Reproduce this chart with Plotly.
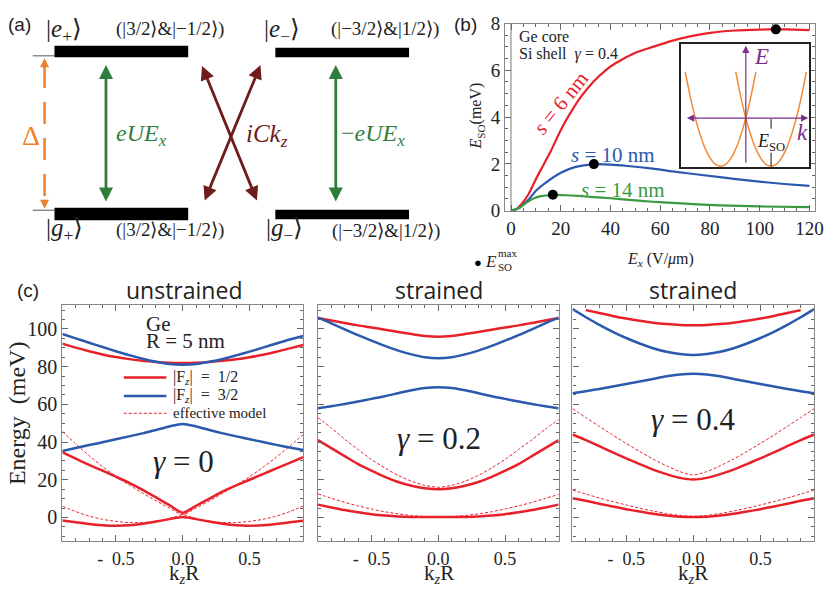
import plotly.graph_objects as go

W, H = 837, 596
def PX(x): return x / W
def PY(y): return 1 - y / H

SERIF = "Liberation Serif"
SANS = "Liberation Sans"
RED = "#e8202a"
BLUE = "#2a59ad"
GREEN = "#3a9a40"

# ---------------- panel (b) data ----------------
ex_s6 = [0, 2, 4, 7, 10, 13, 16, 20, 24, 28, 33, 38, 42, 50, 57, 65, 72, 80, 90, 100, 107, 114, 120]
eso_s6 = [0, 0.05, 0.25, 0.7, 1.35, 1.95, 2.55, 3.45, 4.2, 4.85, 5.5, 6.0, 6.3, 6.75, 7.0, 7.27, 7.45,
          7.6, 7.7, 7.74, 7.75, 7.74, 7.72]
ex_s10 = [0, 3, 7, 10, 14, 20, 26, 33, 40, 47, 57, 65, 71, 84, 97, 110, 120]
eso_s10 = [0, 0.1, 0.47, 0.85, 1.2, 1.62, 1.87, 1.98, 1.97, 1.91, 1.8, 1.68, 1.6, 1.43, 1.27, 1.14, 1.06]
ex_s14 = [0, 3, 6, 9, 12, 16.5, 22, 27, 33, 40, 50, 57, 65, 75, 84, 100, 120]
eso_s14 = [0, 0.1, 0.33, 0.52, 0.62, 0.67, 0.66, 0.63, 0.58, 0.53, 0.44, 0.38, 0.33, 0.27, 0.23, 0.18, 0.15]
max_ex = [106.5, 33.3, 16.8]
max_eso = [7.75, 1.99, 0.68]
b_xticks = [0, 20, 40, 60, 80, 100, 120]
b_yticks = [0, 2, 4, 6, 8]

# inset schematic dispersion
ins_k_left = [-2.4, -2.2, -2.0, -1.8, -1.6, -1.4, -1.2, -1.0, -0.8, -0.6, -0.4, -0.2, 0.0, 0.2, 0.4]
ins_k_right = [-0.4, -0.2, 0.0, 0.2, 0.4, 0.6, 0.8, 1.0, 1.2, 1.4, 1.6, 1.8, 2.0, 2.2, 2.4]
ins_E_left = [0.96, 0.44, 0.0, -0.36, -0.64, -0.84, -0.96, -1.0, -0.96, -0.84, -0.64, -0.36, 0.0, 0.44, 0.96]
ins_E_right = [0.96, 0.44, 0.0, -0.36, -0.64, -0.84, -0.96, -1.0, -0.96, -0.84, -0.64, -0.36, 0.0, 0.44, 0.96]

# ---------------- panel (c) data ----------------
kR = [-0.9, -0.8, -0.7, -0.6, -0.5, -0.4, -0.3, -0.2, -0.1, 0.0, 0.1, 0.2, 0.3, 0.4, 0.5, 0.6, 0.7, 0.8, 0.9]
kR_short = [-0.8, -0.7, -0.6, -0.5, -0.4, -0.3, -0.2, -0.1, 0.0, 0.1, 0.2, 0.3, 0.4, 0.5, 0.6, 0.7, 0.8]
c_xtickvals = [-0.5, 0.0, 0.5]
c_xticktext = ["-\u00a0\u00a00.5", "0.0", "0.5"]
c_yticks = [0, 20, 40, 60, 80, 100]

# unstrained, gamma = 0
u_blue_top = [97.3, 95.0, 92.7, 90.4, 88.2, 86.1, 84.2, 82.6, 81.4, 81.0, 81.4, 82.6, 84.1, 86.0, 88.0, 90.1, 92.3, 94.4, 96.3]
u_red_top = [92.2, 90.1, 88.2, 86.5, 85.1, 84.0, 83.1, 82.5, 82.1, 82.0, 82.1, 82.5, 83.1, 83.9, 85.0, 86.3, 87.9, 89.7, 91.5]
u_blue_low = [35.3, 36.8, 38.4, 39.9, 41.5, 43.0, 44.6, 46.4, 48.3, 49.6, 48.3, 46.4, 44.6, 43.0, 41.5, 40.0, 38.5, 37.1, 35.8]
u_red_mid = [34.5, 31.2, 27.9, 24.8, 21.6, 18.3, 14.6, 10.6, 6.5, 2.5, 6.2, 10.0, 13.8, 17.0, 20.0, 23.0, 26.0, 29.0, 32.0]
u_red_bot = [-1.6, -2.6, -3.5, -4.1, -4.4, -4.2, -3.4, -2.2, -0.9, 0.2, -0.9, -2.2, -3.4, -4.2, -4.4, -4.1, -3.5, -2.6, -1.7]
u_eff_up = [45.7, 39.0, 32.8, 27.0, 21.8, 17.2, 12.9, 8.8, 5.0, 1.5, 5.0, 8.8, 12.9, 17.2, 21.6, 26.6, 32.0, 37.8, 44.0]
u_eff_low = [6.0, 3.1, 0.7, -1.0, -2.1, -2.7, -2.7, -2.1, -0.7, 1.5, -0.7, -2.1, -2.7, -2.7, -2.1, -1.0, 0.7, 3.1, 6.0]

# strained, gamma = 0.2
s2_red_top = [105.8, 104.5, 103.2, 101.9, 100.8, 99.6, 98.4, 97.3, 96.3, 95.9, 96.3, 97.3, 98.4, 99.6, 100.8, 101.9, 103.2, 104.5, 105.8]
s2_blue_top = [106.0, 103.0, 99.8, 96.7, 93.8, 91.0, 88.5, 86.5, 85.0, 84.5, 85.0, 86.5, 88.5, 91.0, 93.8, 96.7, 99.8, 103.0, 106.0]
s2_blue_low = [57.9, 59.0, 60.2, 61.5, 62.9, 64.3, 65.9, 67.5, 68.7, 69.1, 68.7, 67.5, 65.9, 64.3, 62.9, 61.5, 60.2, 59.0, 57.9]
s2_red_mid = [41.0, 36.8, 32.5, 28.3, 24.8, 21.5, 18.8, 16.8, 15.5, 15.0, 15.5, 16.8, 18.8, 21.5, 24.8, 28.3, 32.5, 36.8, 41.0]
s2_eff_up = [53.0, 47.5, 41.5, 36.0, 30.8, 26.3, 22.3, 19.2, 17.0, 16.0, 17.0, 19.2, 22.3, 26.3, 30.8, 36.0, 41.2, 46.8, 52.0]
s2_red_bot = [6.8, 5.3, 3.9, 2.7, 1.7, 1.0, 0.5, 0.3, 0.2, 0.2, 0.2, 0.3, 0.5, 1.0, 1.7, 2.7, 3.9, 5.3, 6.8]
s2_eff_low = [12.5, 10.2, 8.0, 6.1, 4.5, 3.0, 1.9, 1.0, 0.5, 0.3, 0.5, 1.0, 1.9, 3.0, 4.5, 6.1, 8.0, 10.1, 12.2]

# strained, gamma = 0.4
s4_red_top = [110.0, 108.5, 106.9, 105.5, 104.3, 103.3, 102.6, 102.1, 102.0, 102.1, 102.6, 103.3, 104.3, 105.5, 106.9, 108.5, 110.0]
s4_blue_top = [110.5, 106.2, 102.2, 98.5, 95.2, 92.3, 89.8, 87.9, 86.7, 86.2, 86.7, 87.9, 89.8, 92.3, 95.2, 98.5, 102.2, 106.2, 110.5]
s4_blue_low = [65.9, 67.0, 68.2, 69.5, 70.8, 72.1, 73.5, 74.9, 75.9, 76.3, 75.9, 74.9, 73.5, 72.1, 70.8, 69.5, 68.2, 67.0, 65.9]
s4_red_mid = [44.0, 41.0, 37.8, 34.5, 31.3, 28.3, 25.4, 23.0, 21.0, 20.1, 21.0, 23.0, 25.4, 28.3, 31.3, 34.5, 37.8, 41.0, 44.0]
s4_eff_up = [57.7, 53.0, 48.3, 43.7, 39.3, 35.0, 31.0, 27.4, 24.3, 22.5, 24.3, 27.4, 31.0, 35.0, 39.3, 43.7, 48.3, 53.0, 57.7]
s4_red_bot = [10.2, 8.8, 7.3, 5.8, 4.4, 3.1, 1.9, 1.0, 0.4, 0.2, 0.4, 1.0, 1.9, 3.1, 4.4, 5.8, 7.3, 8.8, 10.2]
s4_eff_low = [14.5, 12.4, 10.3, 8.4, 6.6, 4.9, 3.4, 2.1, 1.1, 0.6, 1.1, 2.1, 3.4, 4.9, 6.6, 8.4, 10.3, 12.4, 14.5]

fig = go.Figure()

def line(x, y, xa, ya, color, width=2.5, dash=None, smooth=0.7):
    fig.add_trace(go.Scatter(x=x, y=y, xaxis=xa, yaxis=ya, mode="lines",
                             line=dict(color=color, width=width, dash=dash, shape="spline", smoothing=smooth),
                             showlegend=False, hoverinfo="skip"))

# (b)
line(ex_s6, eso_s6, "x", "y", RED, 2.2, smooth=0.5)
line(ex_s10, eso_s10, "x", "y", BLUE, 2.2, smooth=0.5)
line(ex_s14, eso_s14, "x", "y", GREEN, 2.2, smooth=0.5)
fig.add_trace(go.Scatter(x=max_ex, y=max_eso, xaxis="x", yaxis="y", mode="markers",
                         marker=dict(color="black", size=10), showlegend=False, cliponaxis=False))
# inset
ORANGE_IN = "#f28c3a"
line(ins_k_left, ins_E_left, "x2", "y2", ORANGE_IN, 1.5)
line(ins_k_right, ins_E_right, "x2", "y2", ORANGE_IN, 1.5)

# (c)
panels = [
    ("x3", "y3", [(kR, u_red_top, RED), (kR, u_blue_top, BLUE), (kR, u_blue_low, BLUE), (kR, u_red_mid, RED), (kR, u_red_bot, RED)],
     [u_eff_up, u_eff_low]),
    ("x4", "y4", [(kR, s2_red_top, RED), (kR, s2_blue_top, BLUE), (kR, s2_blue_low, BLUE), (kR, s2_red_mid, RED), (kR, s2_red_bot, RED)],
     [s2_eff_up, s2_eff_low]),
    ("x5", "y5", [(kR_short, s4_red_top, RED), (kR, s4_blue_top, BLUE), (kR, s4_blue_low, BLUE), (kR, s4_red_mid, RED), (kR, s4_red_bot, RED)],
     [s4_eff_up, s4_eff_low]),
]
for xa, ya, solids, effs in panels:
    for e in effs:
        line(kR, e, xa, ya, RED, 1, "3px,2px")
    for kx, vals, col in solids:
        line(kx, vals, xa, ya, col, 2.5)

FRAME = "#888888"
TICKC = "#666666"

def frame_axis(domain, rng, tickvals, ticktext, minor_dtick, anchor, showlabels=True, size=18, standoff=None):
    d = dict(domain=domain, range=rng, anchor=anchor, showline=True, linecolor=FRAME, linewidth=1.2,
             mirror="ticks", ticks="inside", ticklen=6, tickcolor=TICKC, tickwidth=1,
             tickmode="array", tickvals=tickvals, ticktext=ticktext, showticklabels=showlabels,
             tickfont=dict(family=SERIF, size=size, color="#222"),
             minor=dict(ticks="inside", dtick=minor_dtick, tick0=0, ticklen=3, tickcolor=TICKC, showgrid=False),
             showgrid=False, zeroline=False, fixedrange=True)
    if standoff is not None:
        d["ticklabelstandoff"] = standoff
    return d

c_ytickstext = [str(v) for v in c_yticks]
layout = dict(
    width=W, height=H, autosize=False, margin=dict(l=0, r=0, t=0, b=0),
    paper_bgcolor="white", plot_bgcolor="white", showlegend=False,
    xaxis=frame_axis([PX(510), PX(823)], [-2.4, 122.3], b_xticks, [str(v) for v in b_xticks], 5, "y", size=19),
    yaxis=frame_axis([PY(208), PY(14)], [0, 8], b_yticks, [str(v) for v in b_yticks], 0.5, "x", size=19),
    xaxis2=dict(domain=[PX(688), PX(817)], range=[-2.55, 2.51], anchor="y2", showline=True, mirror=True,
                linecolor="#222", linewidth=1.5, ticks="", showticklabels=False, showgrid=False, zeroline=False),
    yaxis2=dict(domain=[PY(163), PY(35)], range=[-1.02, 1.54], anchor="x2", showline=True, mirror=True,
                linecolor="#222", linewidth=1.5, ticks="", showticklabels=False, showgrid=False, zeroline=False),
    xaxis3=frame_axis([PX(63), PX(306)], [-0.9, 0.9], c_xtickvals, c_xticktext, 0.1, "y3", size=18, standoff=2),
    yaxis3=frame_axis([PY(550), PY(306)], [-12.3, 112.6], c_yticks, c_ytickstext, 5, "x3", size=20),
    xaxis4=frame_axis([PX(321), PX(564)], [-0.9, 0.9], c_xtickvals, c_xticktext, 0.1, "y4", size=18, standoff=2),
    yaxis4=frame_axis([PY(550), PY(306)], [-12.3, 112.6], c_yticks, c_ytickstext, 5, "x4", showlabels=False),
    xaxis5=frame_axis([PX(578), PX(822)], [-0.9, 0.9], c_xtickvals, c_xticktext, 0.1, "y5", size=18, standoff=2),
    yaxis5=frame_axis([PY(550), PY(306)], [-12.3, 112.6], c_yticks, c_ytickstext, 5, "x5", showlabels=False),
    xaxis6=dict(domain=[0, PX(460)], range=[0, 460], anchor="y6", visible=False, fixedrange=True),
    yaxis6=dict(domain=[PY(240), 1], range=[240, 0], anchor="x6", visible=False, fixedrange=True),
)
layout["xaxis"]["zeroline"] = True
layout["xaxis"]["zerolinecolor"] = "#bdbdbd"
layout["xaxis"]["zerolinewidth"] = 2
fig.update_layout(**layout)

ann = []
shapes = []

def T(text, x, y, size, color="#222", family=SERIF, xanchor="center", yanchor="middle", angle=0):
    ann.append(dict(text=text, x=PX(x), y=PY(y), xref="paper", yref="paper", showarrow=False,
                    font=dict(family=family, size=size, color=color), xanchor=xanchor, yanchor=yanchor,
                    textangle=angle))

def arrow(x0, y0, x1, y1, color, width, both=True, xr="x6", yr="y6", size=1.0, head=2):
    ann.append(dict(x=x1, y=y1, ax=x0, ay=y0, xref=xr, yref=yr, axref=xr, ayref=yr, text="",
                    showarrow=True, arrowhead=head, arrowsize=size, arrowwidth=width, arrowcolor=color,
                    arrowside="end+start" if both else "end", startarrowhead=head, startarrowsize=size))

# ---------- panel (a) ----------
for (x0, x1, y0, y1) in [(55, 190, 37, 49), (278, 413, 39, 49), (55, 190, 205, 218), (278, 413, 207, 217)]:
    shapes.append(dict(type="rect", xref="x6", yref="y6", x0=x0, x1=x1, y0=y0, y1=y1,
                       fillcolor="black", line=dict(width=0)))
for yy in (47.5, 207.5):
    shapes.append(dict(type="line", xref="x6", yref="y6", x0=33, x1=55, y0=yy, y1=yy,
                       line=dict(color="#555", width=1)))
ORANGE = "#f07f2a"
shapes.append(dict(type="line", xref="x6", yref="y6", x0=45, x1=45, y0=58, y1=200,
                   line=dict(color=ORANGE, width=2.5, dash="22px,14px")))
arrow(45, 62, 45, 50, ORANGE, 2, both=False, size=0.9)
arrow(45, 195, 45, 206, ORANGE, 2, both=False, size=0.9)
DGREEN = "#2f7d3c"
DRED = "#6e1c1c"
arrow(107, 200, 107, 57, DGREEN, 2.8, size=1.0)
arrow(339, 200, 339, 57, DGREEN, 2.8, size=1.0)
arrow(206, 199, 263, 57, DRED, 2.8, size=1.0)
arrow(260, 199, 204, 58, DRED, 2.8, size=1.0)

T("(a)", 20, 15, 19, "#222", SANS)
T("|<i>e</i><sub>+</sub>⟩", 65, 21, 25)
T("(|3/2⟩&amp;|−1/2⟩)", 172, 20, 19)
T("|<i>e</i><sub>−</sub>⟩", 285, 21, 25)
T("(|−3/2⟩&amp;|1/2⟩)", 389, 20, 19)
T("|<i>g</i><sub>+</sub>⟩", 65, 228, 25)
T("(|3/2⟩&amp;|−1/2⟩)", 172, 228, 19)
T("|<i>g</i><sub>−</sub>⟩", 287, 228, 25)
T("(|−3/2⟩&amp;|1/2⟩)", 390, 229, 19)
T("Δ", 31, 130, 28, ORANGE)
T("<i>eUE</i><sub><i>x</i></sub>", 115, 130, 24, DGREEN, xanchor="left")
T("<i>iCk</i><sub><i>z</i></sub>", 246, 130, 25, DRED, xanchor="left")
T("−<i>eUE</i><sub><i>x</i></sub>", 342, 130, 24, DGREEN, xanchor="left")

# ---------- panel (b) ----------
T("(b)", 470, 15, 19, "#222", SANS)
T("Ge core", 522, 27, 16, xanchor="left")
T("Si shell\u00a0\u00a0<i>γ</i> = 0.4", 522, 46, 16, xanchor="left")
T("<i>E</i><sub>SO</sub>(meV)", 481, 110, 16, angle=-90)
T("<i>s</i> = 6 nm", 566, 96, 21, RED, angle=-51)
T("<i>s</i> = 10 nm", 619, 150, 21, BLUE)
T("<i>s</i> = 14 nm", 629, 187, 21, GREEN)
T("●", 483, 262, 13, "black", SANS)
T("<i>E</i>", 488, 261, 17, xanchor="left")
T("max", 501, 252, 11, xanchor="left")
T("SO", 501, 266, 11, xanchor="left")
T("<i>E</i><sub><i>x</i></sub>\u00a0(V/<i>μ</i>m)", 667, 259, 16)

PURPLE = "#7b2c8c"
arrow(-2.39, 0, 2.47, 0, PURPLE, 1.2, both=True, xr="x2", yr="y2", size=1.2)
arrow(0, -0.96, 0, 1.50, PURPLE, 1.2, both=False, xr="x2", yr="y2", size=1.2)
for (a0, a1) in [(-0.02, -0.22), (-0.72, -1.0)]:
    shapes.append(dict(type="line", xref="x2", yref="y2", x0=1.0, x1=1.0, y0=a0, y1=a1,
                       line=dict(color="#111", width=1)))
T("<i>E</i>", 769, 48, 23, PURPLE)
T("<i>k</i>", 810, 127, 23, PURPLE)
T("<i>E</i><sub>SO</sub>", 778, 137, 18)

# ---------- panel (c) ----------
T("(c)", 28, 291, 19, "#222", SANS)
T("unstrained", 186, 290, 23, "#222", "Open Sans")
T("strained", 443, 290, 23, "#222", "Open Sans")
T("strained", 700, 290, 23, "#222", "Open Sans")
T("Energy\u00a0\u00a0(meV)", 17, 418, 24, angle=-90)
for cx in (186, 443, 700):
    T("k<sub><i>z</i></sub>R", cx, 600, 21, yanchor="bottom")
T("Ge", 145, 325, 21, xanchor="left")
T("R = 5 nm", 145, 343, 21, xanchor="left")
T("<i>γ</i> = 0", 185, 468, 31)
T("<i>γ</i> = 0.2", 443, 444, 31)
T("<i>γ</i> = 0.4", 700, 424, 31)
for yy, col, w, d, txt in [(381, RED, 2.5, None, "|F<sub><i>z</i></sub>|\u00a0\u00a0=\u00a0\u00a01/2"),
                           (400, BLUE, 2.5, None, "|F<sub><i>z</i></sub>|\u00a0\u00a0=\u00a0\u00a03/2"),
                           (418, RED, 1, "3px,2px", "effective model")]:
    shapes.append(dict(type="line", xref="paper", yref="paper", x0=PX(125), x1=PX(168), y0=PY(yy), y1=PY(yy),
                       line=dict(color=col, width=w, dash=d)))
    T(txt, 173, yy, 16 if d is None else 15, xanchor="left")

fig.update_layout(annotations=ann, shapes=shapes)
fig.write_html("out.html")
